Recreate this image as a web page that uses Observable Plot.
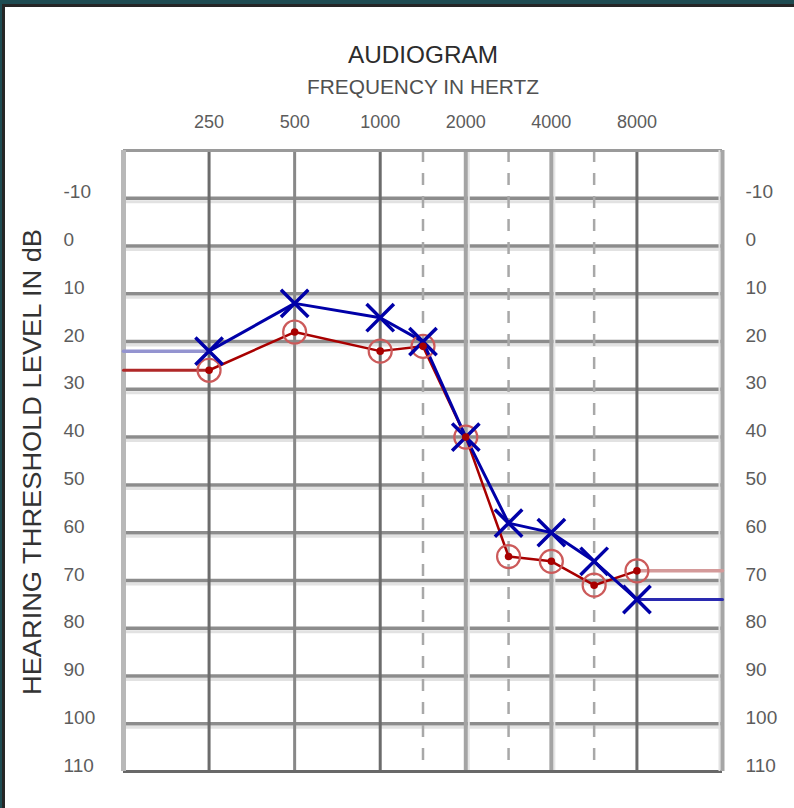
<!DOCTYPE html>
<html>
<head>
<meta charset="utf-8">
<script src="https://cdn.jsdelivr.net/npm/d3@7"></script>
<script src="https://cdn.jsdelivr.net/npm/@observablehq/plot@0.6"></script>
<style>
  html, body { margin: 0; padding: 0; background: #fff; }
  #wrap { position: relative; width: 794px; height: 808px; overflow: hidden; background: #fff; }
  #chart { position: absolute; left: 0; top: 0; }
  .bar { position: absolute; }
</style>
</head>
<body>
<div id="wrap">
  <div id="chart"></div>
  <div class="bar" style="left:0;top:0;width:794px;height:4px;background:#1f4c52;"></div>
  <div class="bar" style="left:2px;top:4px;width:792px;height:3px;background:#262626;"></div>
  <div class="bar" style="left:0;top:0;width:2px;height:808px;background:#1f4c52;"></div>
  <div class="bar" style="left:2px;top:4px;width:3px;height:804px;background:#262626;"></div>
</div>
<script>
// ---- data ----
const frequencies = [250, 500, 1000, 1500, 2000, 3000, 4000, 6000, 8000];
const rightEarDb = [26, 18, 22, 21, 40, 65, 66, 71, 68];   // red circles
const leftEarDb  = [22, 12, 15, 20, 40, 58, 60, 66, 74];   // blue crosses
const octaveTicks = [250, 500, 1000, 2000, 4000, 8000];
const octaveTickLabels = ["250", "500", "1000", "2000", "4000", "8000"];
const halfOctaveFreqs = [1500, 3000, 6000];
const dbTicks = [-10, 0, 10, 20, 30, 40, 50, 60, 70, 80, 90, 100, 110];
const gridDb = [-10, 0, 10, 20, 30, 40, 50, 60, 70, 80, 90, 100];
const edgeFreqs = [125, 16000];
const edgeDb = [-20, 110];
const darkLineFreqs = [250, 1000, 8000];
const midLineFreqs = [500];
const lightLineFreqs = [2000, 4000];
const titleText = "AUDIOGRAM";
const subtitleText = "FREQUENCY IN HERTZ";
const yTitleText = "HEARING THRESHOLD LEVEL IN dB";

// audiogram position: octaves from 125 Hz, inter-octave frequencies drawn midway
const pos = f => {
  const k = Math.log2(f / edgeFreqs[0]);
  return Math.abs(k - Math.round(k)) < 1e-6 ? Math.round(k) : Math.floor(k) + 0.5;
};

const rightRows = frequencies.map((f, i) => ({freq: f, db: rightEarDb[i]}));
const leftRows = frequencies.map((f, i) => ({freq: f, db: leftEarDb[i]}));
const last = frequencies.length - 1;
const rightLeftExt = [{freq: edgeFreqs[0], db: rightEarDb[0]}, {freq: frequencies[0], db: rightEarDb[0]}];
const rightRightExt = [{freq: frequencies[last], db: rightEarDb[last]}, {freq: edgeFreqs[1], db: rightEarDb[last]}];
const leftLeftExt = [{freq: edgeFreqs[0], db: leftEarDb[0]}, {freq: frequencies[0], db: leftEarDb[0]}];
const leftRightExt = [{freq: frequencies[last], db: leftEarDb[last]}, {freq: edgeFreqs[1], db: leftEarDb[last]}];

const X = d => pos(d.freq);
const Y = d => d.db;
const font = "'Liberation Sans', Arial, Helvetica, sans-serif";

const chart = Plot.plot({
  width: 794,
  height: 808,
  marginTop: 150,
  marginBottom: 37,
  marginLeft: 123,
  marginRight: 72,
  x: {type: "linear", domain: [pos(edgeFreqs[0]), pos(edgeFreqs[1])], axis: null},
  y: {domain: edgeDb, reverse: true, axis: null},
  style: {fontFamily: font, background: "white", overflow: "visible"},
  marks: [
    // horizontal grid
    Plot.ruleY(gridDb, {y: d => d, stroke: "#e2e2e2", strokeWidth: 3, dy: 3.5}),
    Plot.ruleY(gridDb, {y: d => d, stroke: "#8c8c8c", strokeWidth: 3.5}),
    // vertical octave lines
    Plot.ruleX(lightLineFreqs, {x: pos, stroke: "#e6e6e6", strokeWidth: 2, dx: 3}),
    Plot.ruleX(lightLineFreqs, {x: pos, stroke: "#a4a4a4", strokeWidth: 4}),
    Plot.ruleX(midLineFreqs, {x: pos, stroke: "#888888", strokeWidth: 3}),
    Plot.ruleX(darkLineFreqs, {x: pos, stroke: "#6c6c6c", strokeWidth: 3}),
    // half-octave dashed lines
    Plot.ruleX(halfOctaveFreqs, {x: pos, stroke: "#a8a8a8", strokeWidth: 2.5, strokeDasharray: "12,11"}),
    // frame
    Plot.ruleY([edgeDb[0]], {y: d => d, stroke: "#9a9a9a", strokeWidth: 3}),
    Plot.ruleY([edgeDb[1]], {y: d => d, stroke: "#686868", strokeWidth: 3}),
    Plot.ruleX([edgeFreqs[0]], {x: pos, stroke: "#b8b8b8", strokeWidth: 5}),
    Plot.ruleX([edgeFreqs[1]], {x: pos, stroke: "#e2e2e2", strokeWidth: 2, dx: -3}),
    Plot.ruleX([edgeFreqs[1]], {x: pos, stroke: "#a6a6a6", strokeWidth: 4}),
    // right ear (red)
    Plot.line(rightLeftExt, {x: X, y: Y, stroke: "#b02828", strokeWidth: 3}),
    Plot.line(rightRightExt, {x: X, y: Y, stroke: "#d49a9a", strokeWidth: 3.5}),
    Plot.line(rightRows, {x: X, y: Y, stroke: "#a80000", strokeWidth: 2.5}),
    // left ear (blue)
    Plot.line(leftLeftExt, {x: X, y: Y, stroke: "#9494d0", strokeWidth: 3.5}),
    Plot.line(leftRightExt, {x: X, y: Y, stroke: "#2a2ab0", strokeWidth: 3}),
    Plot.line(leftRows, {x: X, y: Y, stroke: "#0000a8", strokeWidth: 3}),
    // markers
    Plot.dot(rightRows, {x: X, y: Y, r: 11.5, stroke: "#cc5a5a", strokeWidth: 2.2, fill: "none"}),
    Plot.dot(leftRows, {x: X, y: Y, symbol: "times", r: 12.5, stroke: "#0000a8", strokeWidth: 3.5}),
    Plot.dot(rightRows, {x: X, y: Y, r: 3.8, fill: "#a80000", stroke: "none"}),
    // titles
    Plot.text([titleText], {frameAnchor: "top", lineAnchor: "middle", dy: -95, text: d => d, fontSize: 24, fill: "#2c2c2c"}),
    Plot.text([subtitleText], {frameAnchor: "top", lineAnchor: "middle", dy: -63, text: d => d, fontSize: 21, fill: "#505050"}),
    // frequency tick labels
    Plot.text(octaveTicks, {x: pos, frameAnchor: "top", lineAnchor: "middle", dy: -28, text: (d, i) => octaveTickLabels[i], fontSize: 18, fill: "#5c5c5c"}),
    // dB tick labels, left and right
    Plot.text(dbTicks, {y: d => d, frameAnchor: "left", dx: -60, dy: -6, textAnchor: "start", text: d => String(d), fontSize: 19, fill: "#5c5c5c"}),
    Plot.text(dbTicks, {y: d => d, frameAnchor: "right", dx: 23, dy: -6, textAnchor: "start", text: d => String(d), fontSize: 19, fill: "#5c5c5c"}),
    // y title
    Plot.text([yTitleText], {frameAnchor: "left", textAnchor: "middle", lineAnchor: "middle", dx: -91, dy: 1, rotate: -90, text: d => d, fontSize: 25, fill: "#333333"})
  ]
});

document.getElementById("chart").appendChild(chart);

// stretch titles to the reference's lengths
const stretch = (txt, len) => d3.select(chart).selectAll("text")
  .filter(function() { return this.textContent === txt; })
  .attr("textLength", len)
  .attr("lengthAdjust", "spacingAndGlyphs");
stretch(yTitleText, 466);
stretch(titleText, 150);
stretch(subtitleText, 232);
</script>
</body>
</html>
